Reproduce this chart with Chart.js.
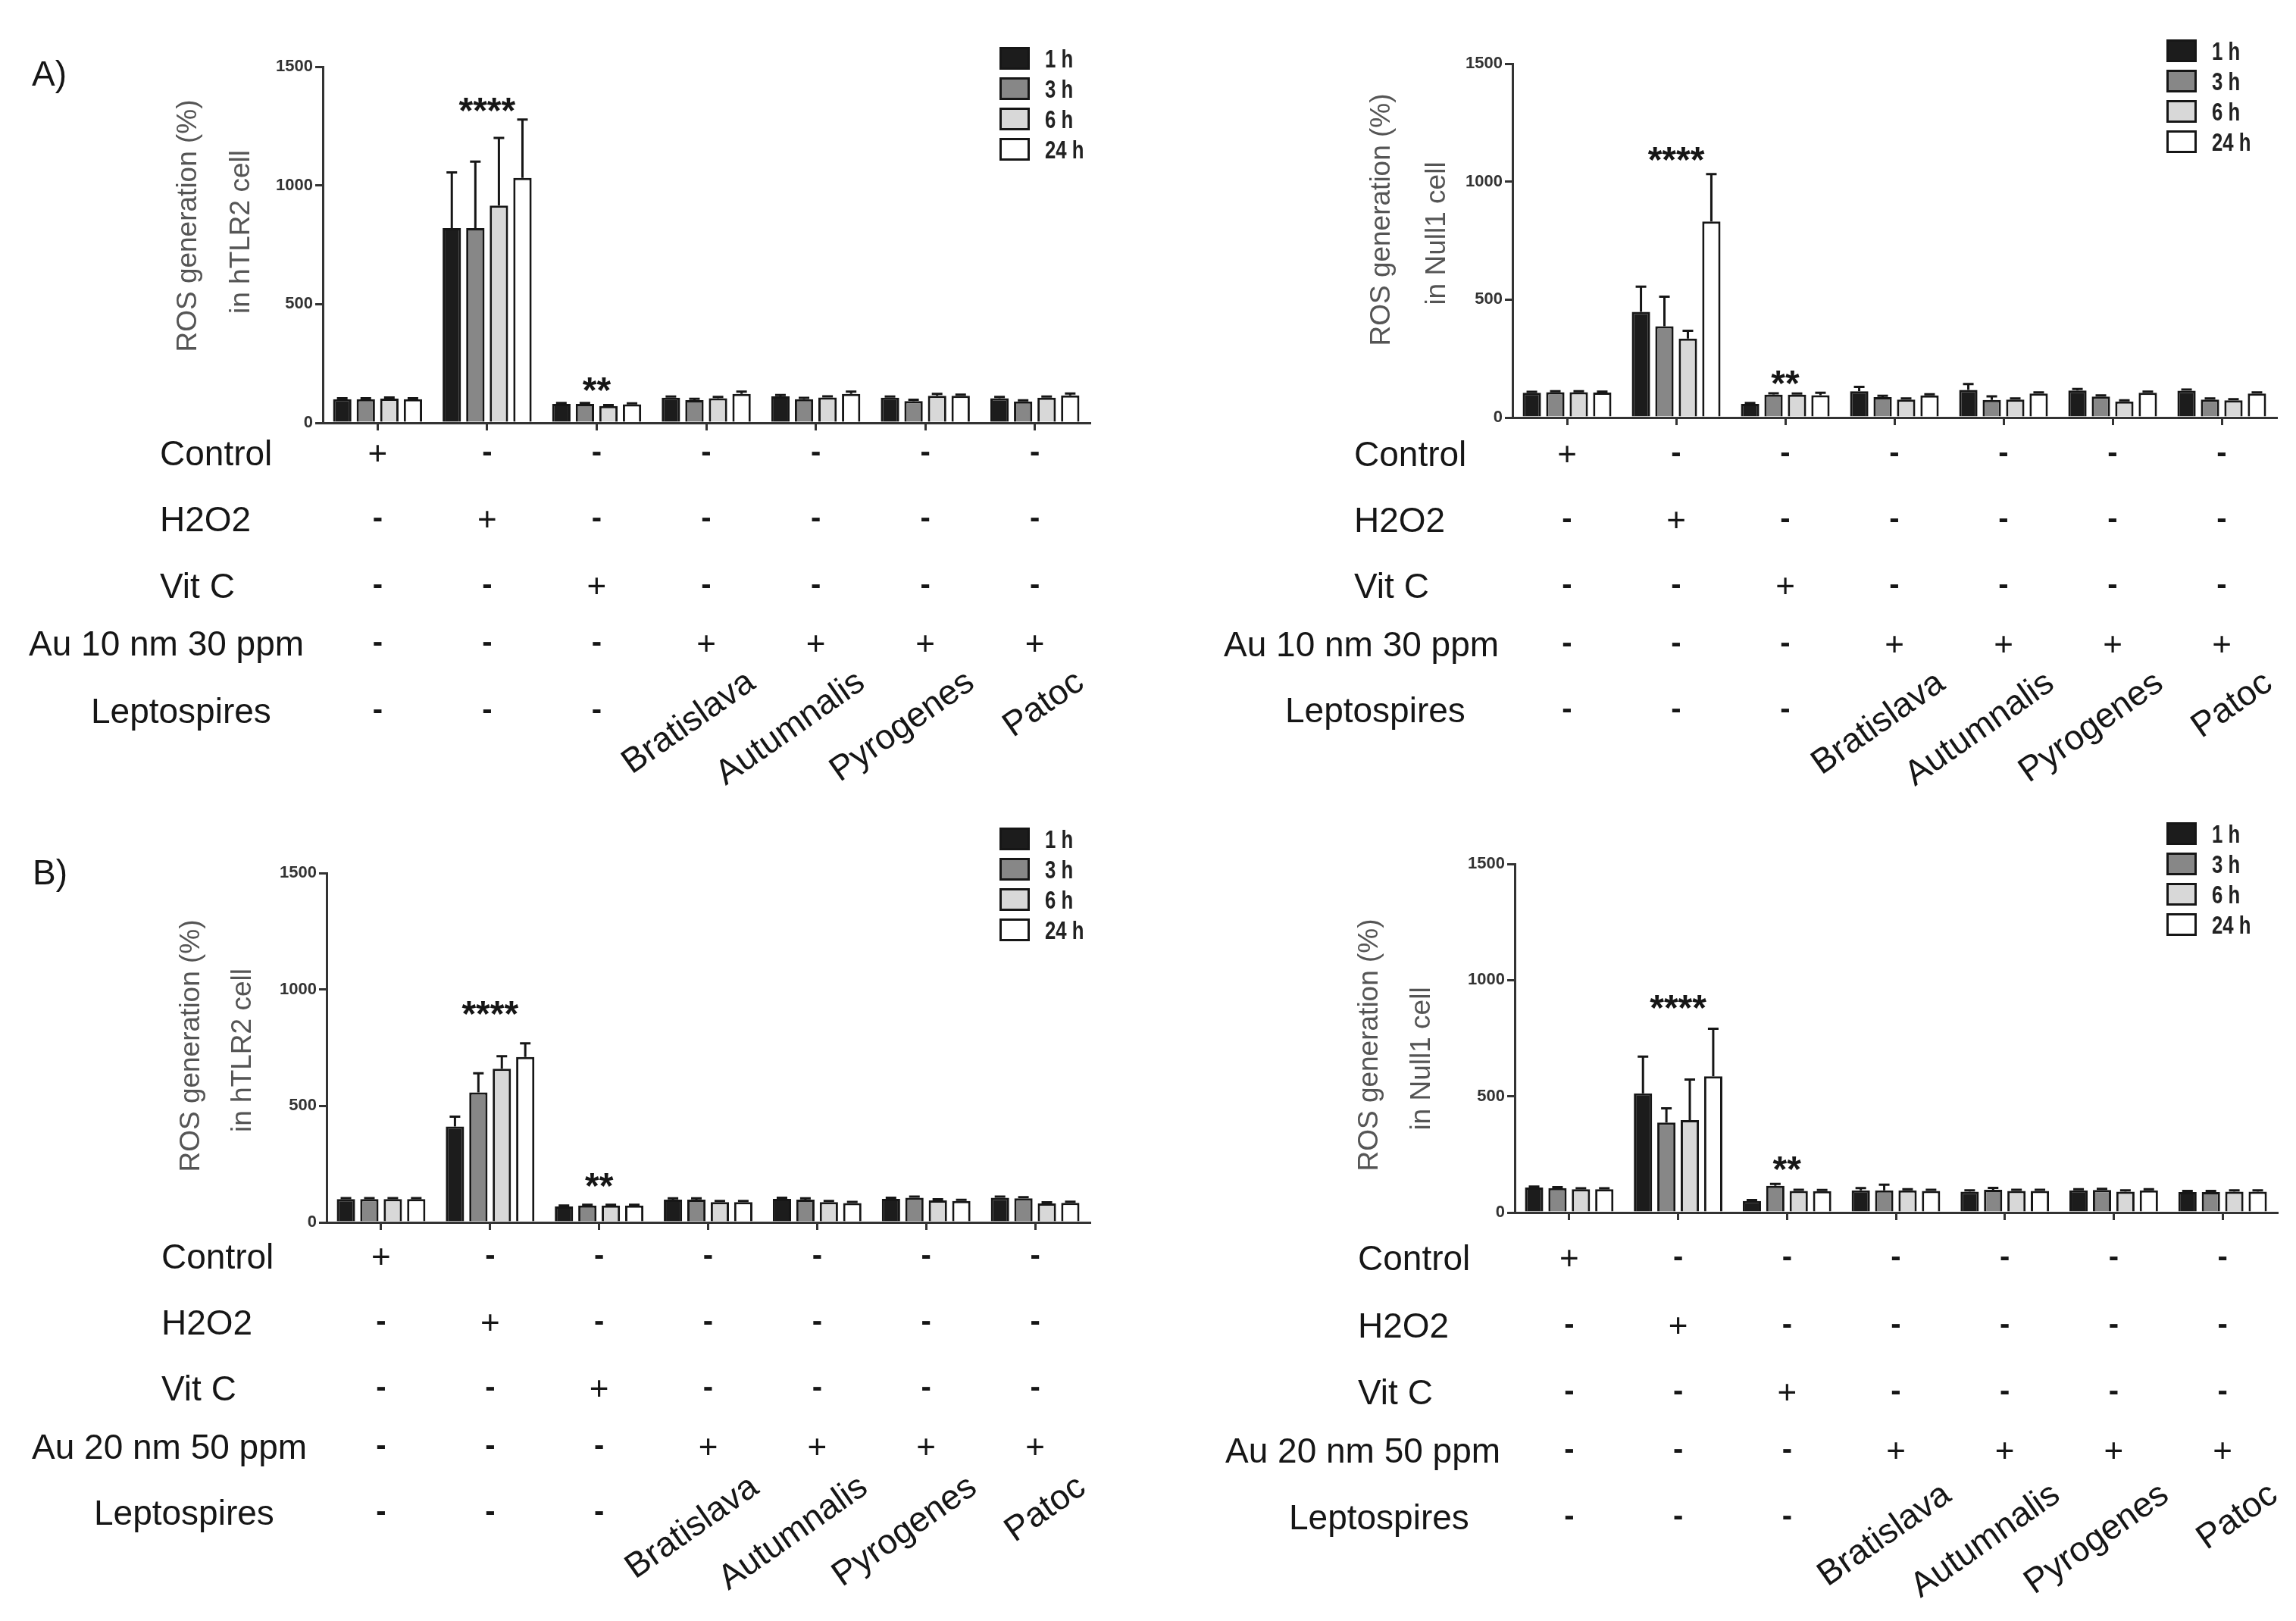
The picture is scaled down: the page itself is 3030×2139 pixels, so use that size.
<!DOCTYPE html>
<html><head><meta charset="utf-8">
<script src="https://cdn.jsdelivr.net/npm/chart.js@4.4.0/dist/chart.umd.min.js"></script>
<style>
html,body{margin:0;padding:0;background:#fff;}
#wrap{position:relative;width:3030px;height:2139px;overflow:hidden;background:#fff;}
canvas{position:absolute;}
</style></head><body><div id="wrap">
<canvas id="cAL" width="1515" height="1070" style="left:0;top:0"></canvas>
<canvas id="cAR" width="1515" height="1070" style="left:1515px;top:0"></canvas>
<canvas id="cBL" width="1515" height="1069" style="left:0;top:1070px"></canvas>
<canvas id="cBR" width="1515" height="1069" style="left:1515px;top:1070px"></canvas>
</div>
<script>
// ---------------- DATA ----------------
const categories = ['Control','H2O2','Vit C','Bratislava','Autumnalis','Pyrogenes','Patoc'];
const seriesLabels = ['1 h','3 h','6 h','24 h'];
const yTickValues = [0, 500, 1000, 1500];

const rowLabelsA = ['Control','H2O2','Vit C','Au 10 nm 30 ppm','Leptospires'];
const rowLabelsB = ['Control','H2O2','Vit C','Au 20 nm 50 ppm','Leptospires'];
const signControl = ['+','-','-','-','-','-','-'];
const signH2O2    = ['-','+','-','-','-','-','-'];
const signVitC    = ['-','-','+','-','-','-','-'];
const signAu      = ['-','-','-','+','+','+','+'];
const signLepto   = ['-','-','-','Bratislava','Autumnalis','Pyrogenes','Patoc'];

const titleTLR2  = ['ROS generation (%)','in hTLR2 cell'];
const titleNull1 = ['ROS generation (%)','in Null1 cell'];
const sigText = ['****','**'];
const sigCategory = [1, 2];

// A) Au 10 nm 30 ppm, hTLR2 cell
const aTLR2_1h  = [100, 820, 80, 106, 112, 106, 104];
const aTLR2_3h  = [100, 820, 80,  96, 100,  92,  90];
const aTLR2_6h  = [102, 915, 71, 104, 107, 114, 106];
const aTLR2_24h = [100, 1032, 78, 122, 122, 114, 116];
const aTLR2_err1h  = [4, 235, 4, 5, 5, 5, 5];
const aTLR2_err3h  = [4, 280, 4, 5, 5, 5, 5];
const aTLR2_err6h  = [5, 285, 4, 5, 5, 8, 5];
const aTLR2_err24h = [4, 245, 4, 10, 10, 5, 8];
const aTLR2_sigY = [1340, 163];

// A) Au 10 nm 30 ppm, Null1 cell
const aNull1_1h  = [105, 448, 58, 112, 117, 115, 114];
const aNull1_3h  = [108, 387, 97,  87,  75,  89,  76];
const aNull1_6h  = [108, 335, 97,  76,  76,  68,  73];
const aNull1_24h = [106, 831, 95,  94, 102, 105, 102];
const aNull1_err1h  = [4, 107, 4, 18, 25, 6, 5];
const aNull1_err3h  = [4, 125, 6, 5, 15, 5, 5];
const aNull1_err6h  = [4, 33, 5, 5, 5, 5, 5];
const aNull1_err24h = [4, 201, 10, 5, 5, 5, 5];
const aNull1_sigY = [1118, 170];

// B) Au 20 nm 50 ppm, hTLR2 cell
const bTLR2_1h  = [100, 412, 68,  98, 101, 101, 106];
const bTLR2_3h  = [100, 558, 72,  98,  98, 106, 103];
const bTLR2_6h  = [100, 660, 72,  87,  87,  94,  81];
const bTLR2_24h = [100, 710, 72,  87,  83,  92,  84];
const bTLR2_err1h  = [4, 42, 4, 5, 5, 5, 5];
const bTLR2_err3h  = [4, 82, 4, 5, 5, 5, 5];
const bTLR2_err6h  = [4, 53, 4, 5, 5, 5, 5];
const bTLR2_err24h = [4, 59, 4, 5, 5, 5, 5];
const bTLR2_sigY = [921, 182];

// B) Au 20 nm 50 ppm, Null1 cell
const bNull1_1h  = [108, 513, 50, 95, 90, 95, 88];
const bNull1_3h  = [105, 387, 115, 95, 98, 97, 88];
const bNull1_6h  = [100, 398, 93, 95, 93, 90, 90];
const bNull1_24h = [100, 586, 92, 93, 93, 95, 90];
const bNull1_err1h  = [4, 158, 4, 10, 5, 5, 5];
const bNull1_err3h  = [4, 61, 8, 25, 8, 5, 5];
const bNull1_err6h  = [4, 174, 5, 5, 5, 5, 5];
const bNull1_err24h = [4, 205, 5, 5, 5, 5, 5];
const bNull1_sigY = [906, 212];

// ---------------- STYLE / LAYOUT ----------------
const FONT = "'Liberation Sans', Arial, sans-serif";
const INK = '#161616';
const barColors = ['#1c1c1c', '#878787', '#d8d8d8', '#ffffff'];

const panels = [
  { id:'cAL', letter:'A)', letterPos:[42,101],
    series:[aTLR2_1h,aTLR2_3h,aTLR2_6h,aTLR2_24h], errors:[aTLR2_err1h,aTLR2_err3h,aTLR2_err6h,aTLR2_err24h],
    sigY:aTLR2_sigY, title:titleTLR2, rows:rowLabelsA,
    area:{l:426,t:88,r:1438,b:558},
    titlePos:[[249,298],[319,306]],
    legend:{x:1319,y:62},
    rowY:[598,685,773,849,938], rowX:[211,211,211,38,120],
    strainDX:60, strainDY:-42 },
  { id:'cAR', letter:null,
    series:[aNull1_1h,aNull1_3h,aNull1_6h,aNull1_24h], errors:[aNull1_err1h,aNull1_err3h,aNull1_err6h,aNull1_err24h],
    sigY:aNull1_sigY, title:titleNull1, rows:rowLabelsA,
    area:{l:481,t:84,r:1489,b:551},
    titlePos:[[309,290],[382,308]],
    legend:{x:1344,y:52},
    rowY:[599,686,773,850,937], rowX:[272,272,272,100,181],
    strainDX:62, strainDY:-40 },
  { id:'cBL', letter:'B)', letterPos:[43,85],
    series:[bTLR2_1h,bTLR2_3h,bTLR2_6h,bTLR2_24h], errors:[bTLR2_err1h,bTLR2_err3h,bTLR2_err6h,bTLR2_err24h],
    sigY:bTLR2_sigY, title:titleTLR2, rows:rowLabelsB,
    area:{l:431,t:82,r:1438,b:543},
    titlePos:[[253,310],[321,316]],
    legend:{x:1319,y:22},
    rowY:[588,675,762,839,926], rowX:[213,213,213,42,124],
    strainDX:62, strainDY:-38 },
  { id:'cBR', letter:null,
    series:[bNull1_1h,bNull1_3h,bNull1_6h,bNull1_24h], errors:[bNull1_err1h,bNull1_err3h,bNull1_err6h,bNull1_err24h],
    sigY:bNull1_sigY, title:titleNull1, rows:rowLabelsB,
    area:{l:484,t:70,r:1490,b:530},
    titlePos:[[293,309],[362,327]],
    legend:{x:1344,y:15},
    rowY:[590,679,767,844,932], rowX:[277,277,277,102,186],
    strainDX:68, strainDY:-34 }
];

const signRows = [signControl, signH2O2, signVitC, signAu, signLepto];

function centeredText(ctx, txt, x, y) {
  ctx.textBaseline = 'alphabetic';
  const m = ctx.measureText(txt);
  const asc = m.actualBoundingBoxAscent, desc = m.actualBoundingBoxDescent;
  ctx.fillText(txt, x, y + (asc - desc) / 2);
}
function capCenteredText(ctx, txt, x, y) {
  ctx.textBaseline = 'alphabetic';
  const cap = ctx.measureText('H').actualBoundingBoxAscent;
  ctx.fillText(txt, x, y + cap / 2);
}

function decor(p) {
  return {
    id: 'decor_' + p.id,
    afterDatasetsDraw(chart) {
      const ctx = chart.ctx, ys = chart.scales.y;
      ctx.save();
      ctx.strokeStyle = INK; ctx.lineWidth = 3;
      chart.data.datasets.forEach((ds, i) => {
        const meta = chart.getDatasetMeta(i);
        meta.data.forEach((el, j) => {
          const e = ds.errors[j];
          if (!e) return;
          const y1 = ys.getPixelForValue(ds.data[j] + e);
          ctx.beginPath();
          ctx.moveTo(el.x, el.y); ctx.lineTo(el.x, y1);
          ctx.moveTo(el.x - 7, y1); ctx.lineTo(el.x + 7, y1);
          ctx.stroke();
        });
      });
      ctx.restore();
    },
    afterDraw(chart) {
      const ctx = chart.ctx, xs = chart.scales.x, ys = chart.scales.y;
      ctx.save();
      ctx.fillStyle = INK;
      if (p.letter) {
        ctx.font = '46px ' + FONT; ctx.textAlign = 'left';
        centeredText(ctx, p.letter, p.letterPos[0], p.letterPos[1]);
      }
      ctx.font = 'bold 48px ' + FONT; ctx.textAlign = 'center';
      sigText.forEach((s, k) => {
        centeredText(ctx, s, xs.getPixelForValue(sigCategory[k]), ys.getPixelForValue(p.sigY[k]));
      });
      ctx.fillStyle = '#555';
      ctx.font = '37px ' + FONT; ctx.textAlign = 'center'; ctx.textBaseline = 'middle';
      p.title.forEach((t, k) => {
        ctx.save();
        ctx.translate(p.titlePos[k][0], p.titlePos[k][1]);
        ctx.rotate(-Math.PI / 2);
        ctx.fillText(t, 0, 0);
        ctx.restore();
      });
      seriesLabels.forEach((lab, i) => {
        const y = p.legend.y + i * 40;
        ctx.fillStyle = barColors[i];
        ctx.fillRect(p.legend.x, y, 40, 30);
        ctx.strokeStyle = INK; ctx.lineWidth = 3;
        ctx.strokeRect(p.legend.x + 1.5, y + 1.5, 37, 27);
        ctx.fillStyle = '#222';
        ctx.save();
        ctx.translate(p.legend.x + 60, y + 15);
        ctx.scale(0.78, 1);
        ctx.font = 'bold 33px ' + FONT; ctx.textAlign = 'left';
        centeredText(ctx, lab, 0, 0);
        ctx.restore();
      });
      ctx.fillStyle = INK;
      p.rows.forEach((lab, r) => {
        const y = p.rowY[r];
        ctx.font = '46px ' + FONT; ctx.textAlign = 'left';
        capCenteredText(ctx, lab, p.rowX[r], y);
        signRows[r].forEach((s, c) => {
          const x = xs.getPixelForValue(c);
          if (s.length === 1) {
            ctx.font = (s === '+' ? '44px ' : 'bold 40px ') + FONT; ctx.textAlign = 'center';
            centeredText(ctx, s, x, y);
          } else {
            ctx.save();
            ctx.translate(x + p.strainDX, y + p.strainDY);
            ctx.rotate(-35 * Math.PI / 180);
            ctx.font = '46px ' + FONT; ctx.textAlign = 'right'; ctx.textBaseline = 'middle';
            ctx.fillText(s, 0, 0);
            ctx.restore();
          }
        });
      });
      ctx.restore();
    }
  };
}

function makeChart(p) {
  const canvas = document.getElementById(p.id);
  const W = canvas.width, H = canvas.height;
  const Wy = 80, Hx = 20;
  const A = p.area;
  const datasets = p.series.map((vals, i) => ({
    label: seriesLabels[i], data: vals, errors: p.errors[i],
    backgroundColor: barColors[i], borderColor: INK, borderWidth: 3, borderSkipped: 'start',
    categoryPercentage: 0.86, barPercentage: 0.78
  }));
  new Chart(canvas, {
    type: 'bar',
    data: { labels: categories, datasets },
    options: {
      responsive: false, animation: false, devicePixelRatio: 1,
      layout: { padding: { left: A.l - Wy, top: A.t, right: W - A.r, bottom: H - A.b - Hx } },
      plugins: { legend: { display: false }, tooltip: { enabled: false }, title: { display: false } },
      scales: {
        x: {
          offset: true,
          grid: { offset: false, drawOnChartArea: false, drawTicks: true, tickLength: 10, lineWidth: 3, color: '#333' },
          border: { display: true, width: 3, color: '#333' },
          ticks: { display: false },
          afterFit: s => { s.height = Hx; }
        },
        y: {
          min: 0, max: 1500,
          afterBuildTicks: s => { s.ticks = yTickValues.map(v => ({ value: v })); },
          grid: { drawOnChartArea: false, drawTicks: true, tickLength: 10, lineWidth: 3, color: '#333' },
          border: { display: true, width: 3, color: '#333' },
          ticks: { font: { family: FONT, size: 22, weight: 'bold' }, color: '#333', padding: 3,
                   callback: v => String(v) },
          afterFit: s => { s.width = Wy; }
        }
      }
    },
    plugins: [decor(p)]
  });
}

panels.forEach(makeChart);
</script></body></html>
